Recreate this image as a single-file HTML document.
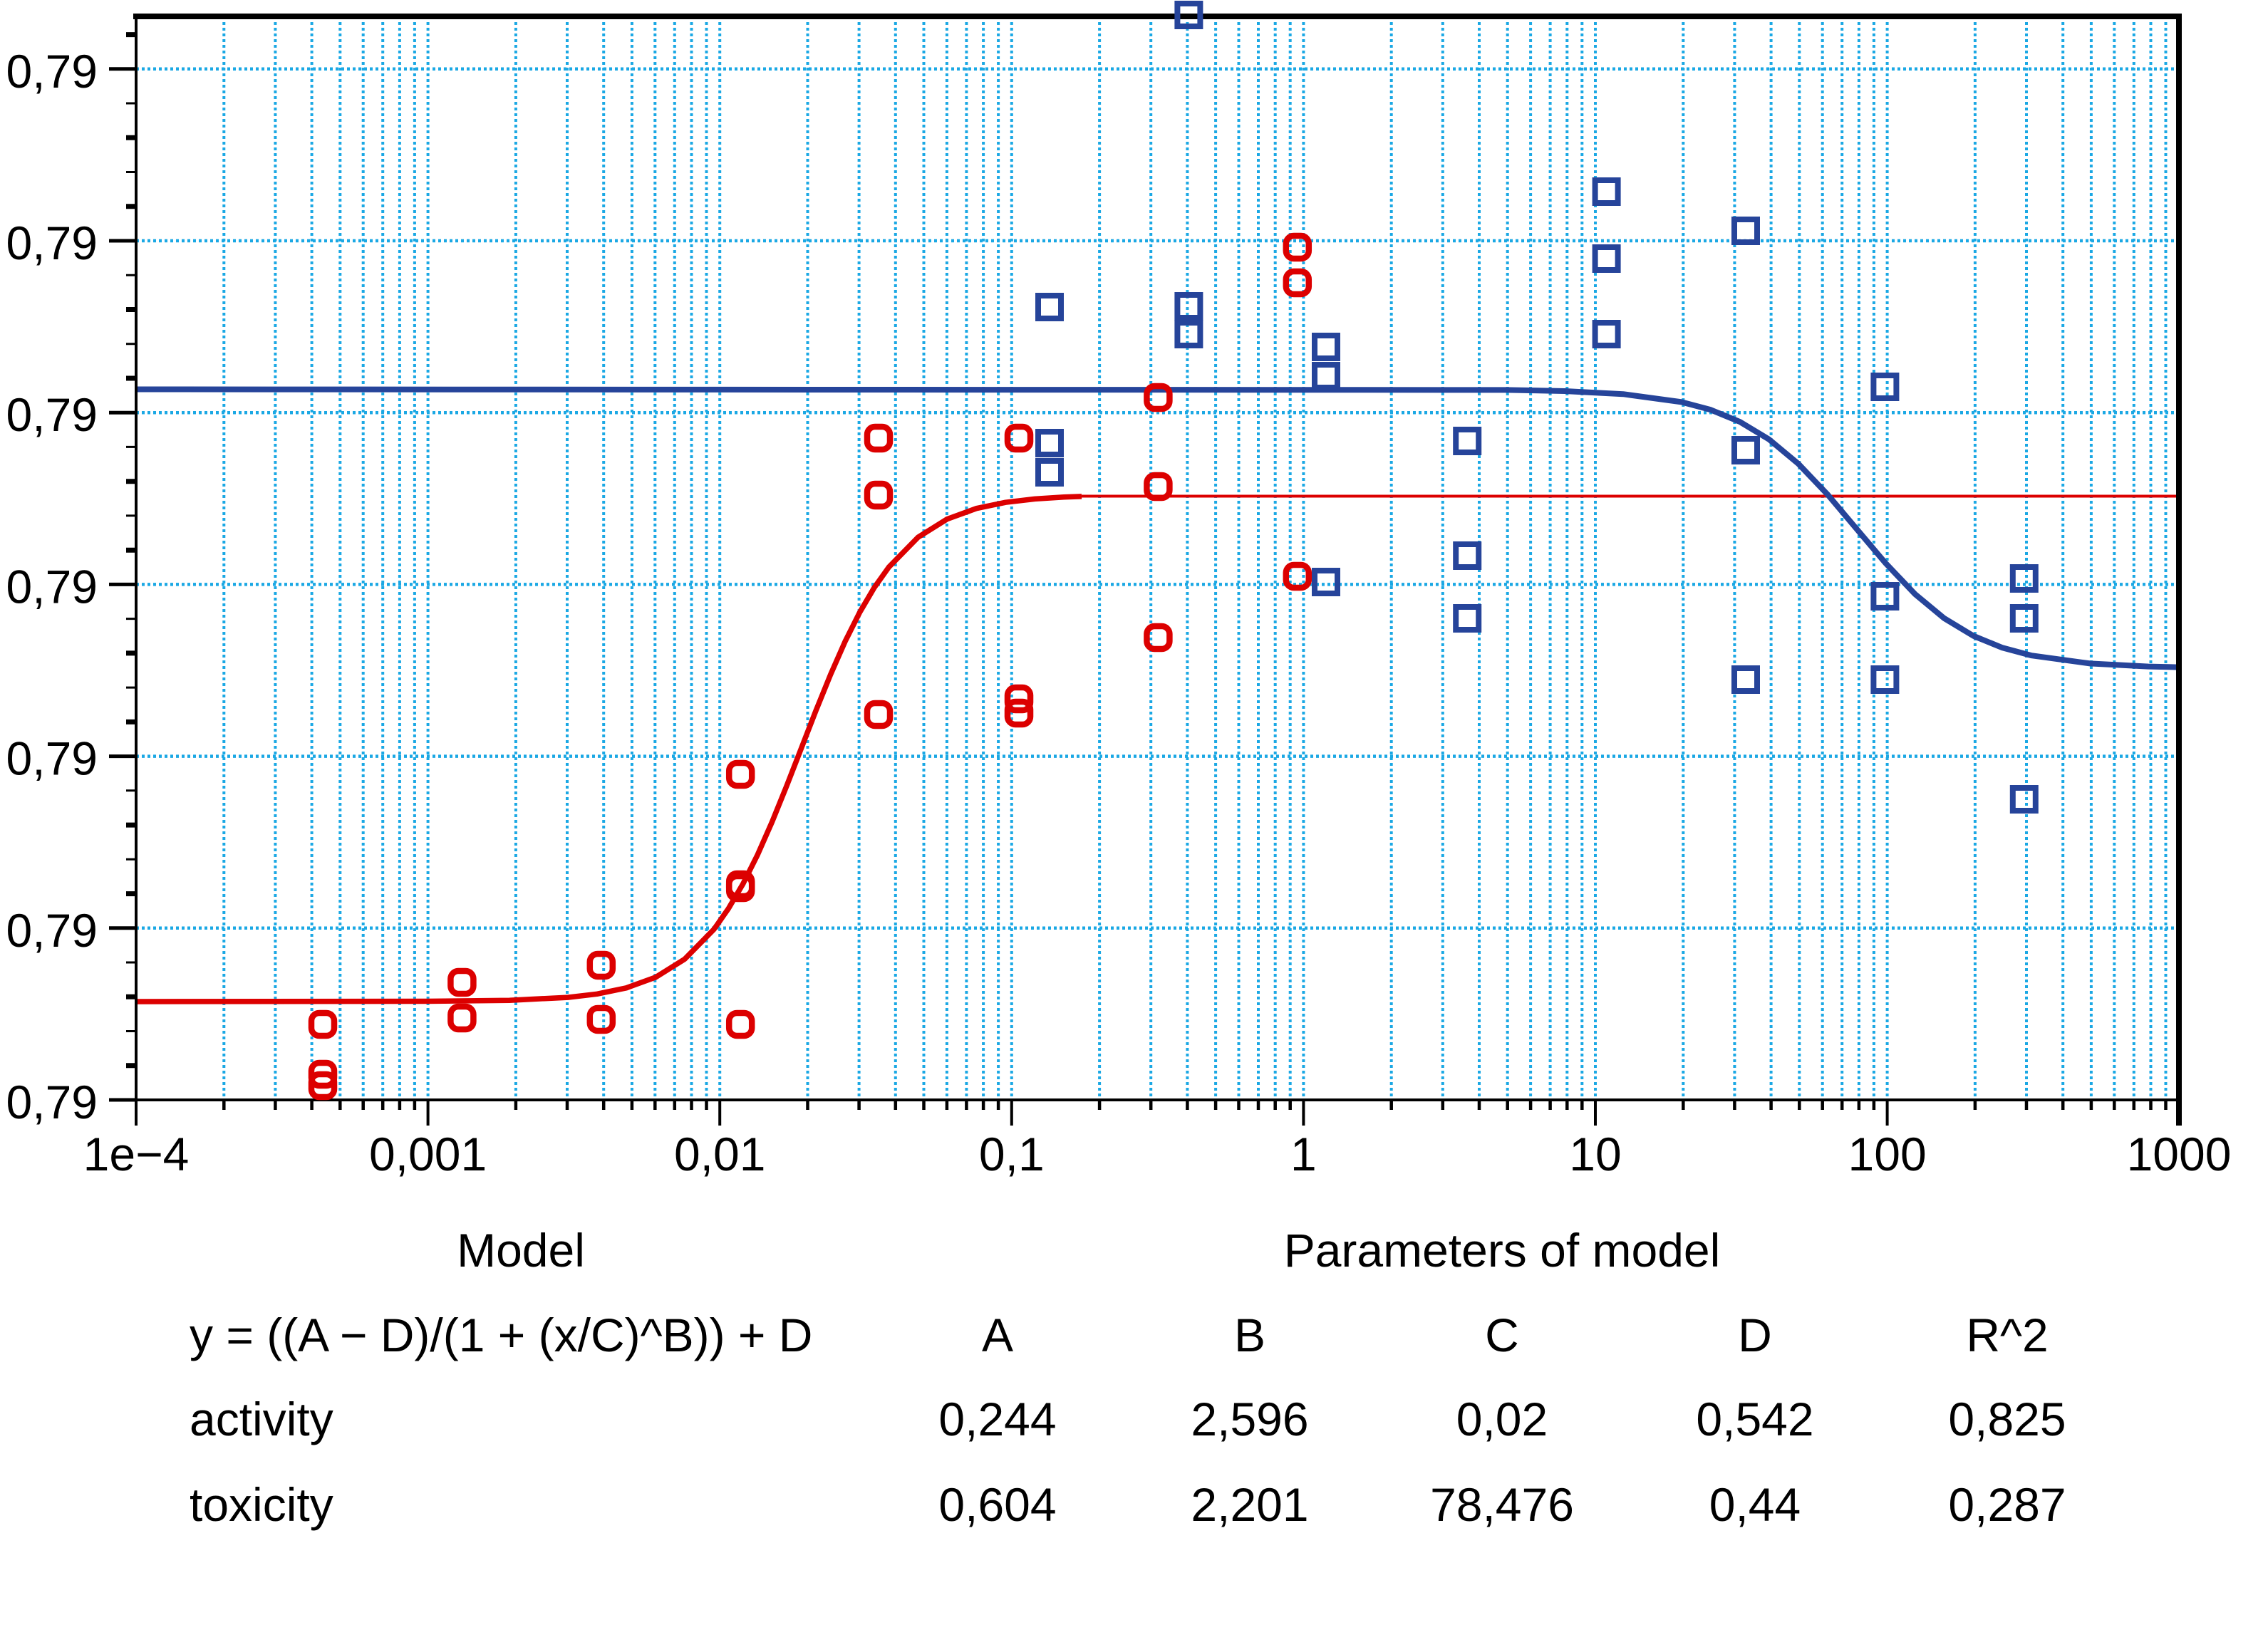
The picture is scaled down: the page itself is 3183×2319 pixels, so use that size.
<!DOCTYPE html>
<html>
<head>
<meta charset="utf-8">
<style>
  html,body{margin:0;padding:0;background:#ffffff;}
  svg{display:block;}
  text{font-family:"Liberation Sans", Arial, sans-serif;font-size:66px;fill:#000;}
</style>
</head>
<body>
<svg xmlns="http://www.w3.org/2000/svg" width="3183" height="2319" viewBox="0 0 3183 2319">
  <rect x="0" y="0" width="3183" height="2319" fill="#ffffff"/>
  <defs>
    <g id="dec">
      <path d="M0 23V1544 M123.3 23V1544 M195.4 23V1544 M246.6 23V1544 M286.3 23V1544 M318.7 23V1544 M346.2 23V1544 M369.9 23V1544 M390.9 23V1544"
            stroke="#1ba8e4" stroke-width="4" stroke-dasharray="4 4" fill="none"/>
      <path d="M123.3 1544V1558 M195.4 1544V1558 M246.6 1544V1558 M286.3 1544V1558 M318.7 1544V1558 M346.2 1544V1558 M369.9 1544V1558 M390.9 1544V1558"
            stroke="#000" stroke-width="4.5" fill="none"/>
      <path d="M0 1544V1580" stroke="#000" stroke-width="4" fill="none"/>
    </g>
    <rect id="c" x="-16" y="-16" width="32" height="32" rx="11" ry="11" fill="none" stroke="#dc0000" stroke-width="8.5"/>
  </defs>

  <!-- vertical grid + x ticks -->
  <use href="#dec" x="191" y="0"/>
  <use href="#dec" x="600.6" y="0"/>
  <use href="#dec" x="1010.2" y="0"/>
  <use href="#dec" x="1419.8" y="0"/>
  <use href="#dec" x="1829.4" y="0"/>
  <use href="#dec" x="2239" y="0"/>
  <use href="#dec" x="2648.6" y="0"/>

  <!-- horizontal grid -->
  <path d="M191 96.8H3058 M191 338H3058 M191 579.2H3058 M191 820.4H3058 M191 1061.6H3058 M191 1302.8H3058"
        stroke="#1ba8e4" stroke-width="4.5" stroke-dasharray="4 4" fill="none"/>

  <!-- y ticks -->
  <path d="M153 96.8H191 M153 338H191 M153 579.2H191 M153 820.4H191 M153 1061.6H191 M153 1302.8H191 M153 1544H191"
        stroke="#000" stroke-width="5" fill="none"/>
  <path d="M177 145H191 M177 386.2H191 M177 627.4H191 M177 868.6H191 M177 1109.8H191 M177 1351H191 M177 241.5H191 M177 482.7H191 M177 723.9H191 M177 965.1H191 M177 1206.3H191 M177 1447.5H191"
        stroke="#000" stroke-width="3" fill="none"/>
  <path d="M177 48.6H191 M177 193.3H191 M177 434.5H191 M177 675.7H191 M177 916.9H191 M177 1158.1H191 M177 1399.3H191 M177 289.8H191 M177 531H191 M177 772.2H191 M177 1013.4H191 M177 1254.6H191 M177 1495.8H191"
        stroke="#000" stroke-width="7" fill="none"/>

  <!-- curves -->
  <polyline points="1518,696.5 3058,696.5" stroke="#dc0000" stroke-width="4" fill="none"/>
  <polyline points="191,1406 600,1405.5 715,1404.2 797,1400.1 838,1395.3 879,1386.8 920,1371.9 961,1346.3 1002,1304.5 1022.2,1275.6 1042.7,1240.8 1063.2,1199.9 1083.6,1153.6 1104.1,1103 1124.6,1050.3 1145.1,997.5 1165.6,947 1186,900.6 1206.5,859.7 1227,824.8 1247.5,796 1288.4,754.2 1329.4,728.6 1370.4,713.7 1411.3,705.2 1452.3,700.4 1493.2,697.8 1518,696.9"
            stroke="#dc0000" stroke-width="7.5" fill="none" stroke-linejoin="round"/>
  <polyline points="191,546.5 2114,547.4 2196,549 2278,553.2 2360,564.4 2401,575.3 2441.7,592.1 2482.6,616.7 2523.6,650.8 2564.5,693.7 2605.5,742.3 2646.5,790.8 2687.4,833.8 2728.4,867.8 2769.3,892.5 2810.3,909.3 2851.3,920.2 2933.2,931.4 3015,935.6 3058,936.6"
            stroke="#26449a" stroke-width="8" fill="none" stroke-linejoin="round"/>

  <!-- axes -->
  <path d="M191 23V1580" stroke="#000" stroke-width="4" fill="none"/>
  <path d="M189 1544H3058" stroke="#000" stroke-width="4" fill="none"/>
  <path d="M3058 19V1580" stroke="#000" stroke-width="8" fill="none"/>
  <path d="M187 23H3062" stroke="#000" stroke-width="8" fill="none"/>

  <!-- activity points (red circles) -->
  <use href="#c" x="453" y="1438"/>
  <use href="#c" x="453" y="1508"/>
  <use href="#c" x="453" y="1524"/>
  <use href="#c" x="648.4" y="1379"/>
  <use href="#c" x="648.4" y="1429"/>
  <use href="#c" x="843.8" y="1355"/>
  <use href="#c" x="843.8" y="1431"/>
  <use href="#c" x="1039.2" y="1087"/>
  <use href="#c" x="1039.2" y="1242"/>
  <use href="#c" x="1039.2" y="1246"/>
  <use href="#c" x="1039.2" y="1438"/>
  <use href="#c" x="1233" y="615"/>
  <use href="#c" x="1233" y="695"/>
  <use href="#c" x="1233" y="1003"/>
  <use href="#c" x="1430" y="615"/>
  <use href="#c" x="1430" y="981"/>
  <use href="#c" x="1430" y="1001"/>
  <use href="#c" x="1625.4" y="558"/>
  <use href="#c" x="1625.4" y="683"/>
  <use href="#c" x="1625.4" y="895"/>
  <use href="#c" x="1820.8" y="347"/>
  <use href="#c" x="1820.8" y="397"/>
  <use href="#c" x="1820.8" y="809"/>

  <!-- toxicity points (blue squares) -->
  <g stroke="#26449a" stroke-width="8" fill="none">
    <rect x="1457" y="415" width="32" height="32"/>
    <rect x="1457" y="606" width="32" height="32"/>
    <rect x="1457" y="647" width="32" height="32"/>
    <rect x="1652.4" y="5" width="32" height="32"/>
    <rect x="1652.4" y="414" width="32" height="32"/>
    <rect x="1652.4" y="453" width="32" height="32"/>
    <rect x="1845" y="471" width="32" height="32"/>
    <rect x="1845" y="512" width="32" height="32"/>
    <rect x="1845" y="801" width="32" height="32"/>
    <rect x="2043.2" y="603" width="32" height="32"/>
    <rect x="2043.2" y="764" width="32" height="32"/>
    <rect x="2043.2" y="852" width="32" height="32"/>
    <rect x="2238.6" y="253" width="32" height="32"/>
    <rect x="2238.6" y="347" width="32" height="32"/>
    <rect x="2238.6" y="453" width="32" height="32"/>
    <rect x="2434" y="308" width="32" height="32"/>
    <rect x="2434" y="616" width="32" height="32"/>
    <rect x="2434" y="938" width="32" height="32"/>
    <rect x="2629.4" y="527" width="32" height="32"/>
    <rect x="2629.4" y="821" width="32" height="32"/>
    <rect x="2629.4" y="938" width="32" height="32"/>
    <rect x="2824.8" y="796" width="32" height="32"/>
    <rect x="2824.8" y="852" width="32" height="32"/>
    <rect x="2824.8" y="1106" width="32" height="32"/>
  </g>

  <!-- y labels -->
  <g text-anchor="end">
    <text x="137" y="122.8">0,79</text>
    <text x="137" y="364">0,79</text>
    <text x="137" y="605.2">0,79</text>
    <text x="137" y="846.4">0,79</text>
    <text x="137" y="1087.6">0,79</text>
    <text x="137" y="1328.8">0,79</text>
    <text x="137" y="1570">0,79</text>
  </g>

  <!-- x labels -->
  <g text-anchor="middle">
    <text x="191" y="1643">1e−4</text>
    <text x="600.6" y="1643">0,001</text>
    <text x="1010.2" y="1643">0,01</text>
    <text x="1419.8" y="1643">0,1</text>
    <text x="1829.4" y="1643">1</text>
    <text x="2239" y="1643">10</text>
    <text x="2648.6" y="1643">100</text>
    <text x="3058" y="1643">1000</text>
  </g>

  <!-- table -->
  <g text-anchor="middle">
    <text x="731" y="1778">Model</text>
    <text x="2108" y="1778">Parameters of model</text>
    <text x="1400" y="1897">A</text>
    <text x="1754" y="1897">B</text>
    <text x="2108" y="1897">C</text>
    <text x="2463" y="1897">D</text>
    <text x="2817" y="1897">R^2</text>
    <text x="1400" y="2015">0,244</text>
    <text x="1754" y="2015">2,596</text>
    <text x="2108" y="2015">0,02</text>
    <text x="2463" y="2015">0,542</text>
    <text x="2817" y="2015">0,825</text>
    <text x="1400" y="2135">0,604</text>
    <text x="1754" y="2135">2,201</text>
    <text x="2108" y="2135">78,476</text>
    <text x="2463" y="2135">0,44</text>
    <text x="2817" y="2135">0,287</text>
  </g>
  <text x="266" y="1897">y = ((A − D)/(1 + (x/C)^B)) + D</text>
  <text x="266" y="2015">activity</text>
  <text x="266" y="2135">toxicity</text>
</svg>
</body>
</html>
